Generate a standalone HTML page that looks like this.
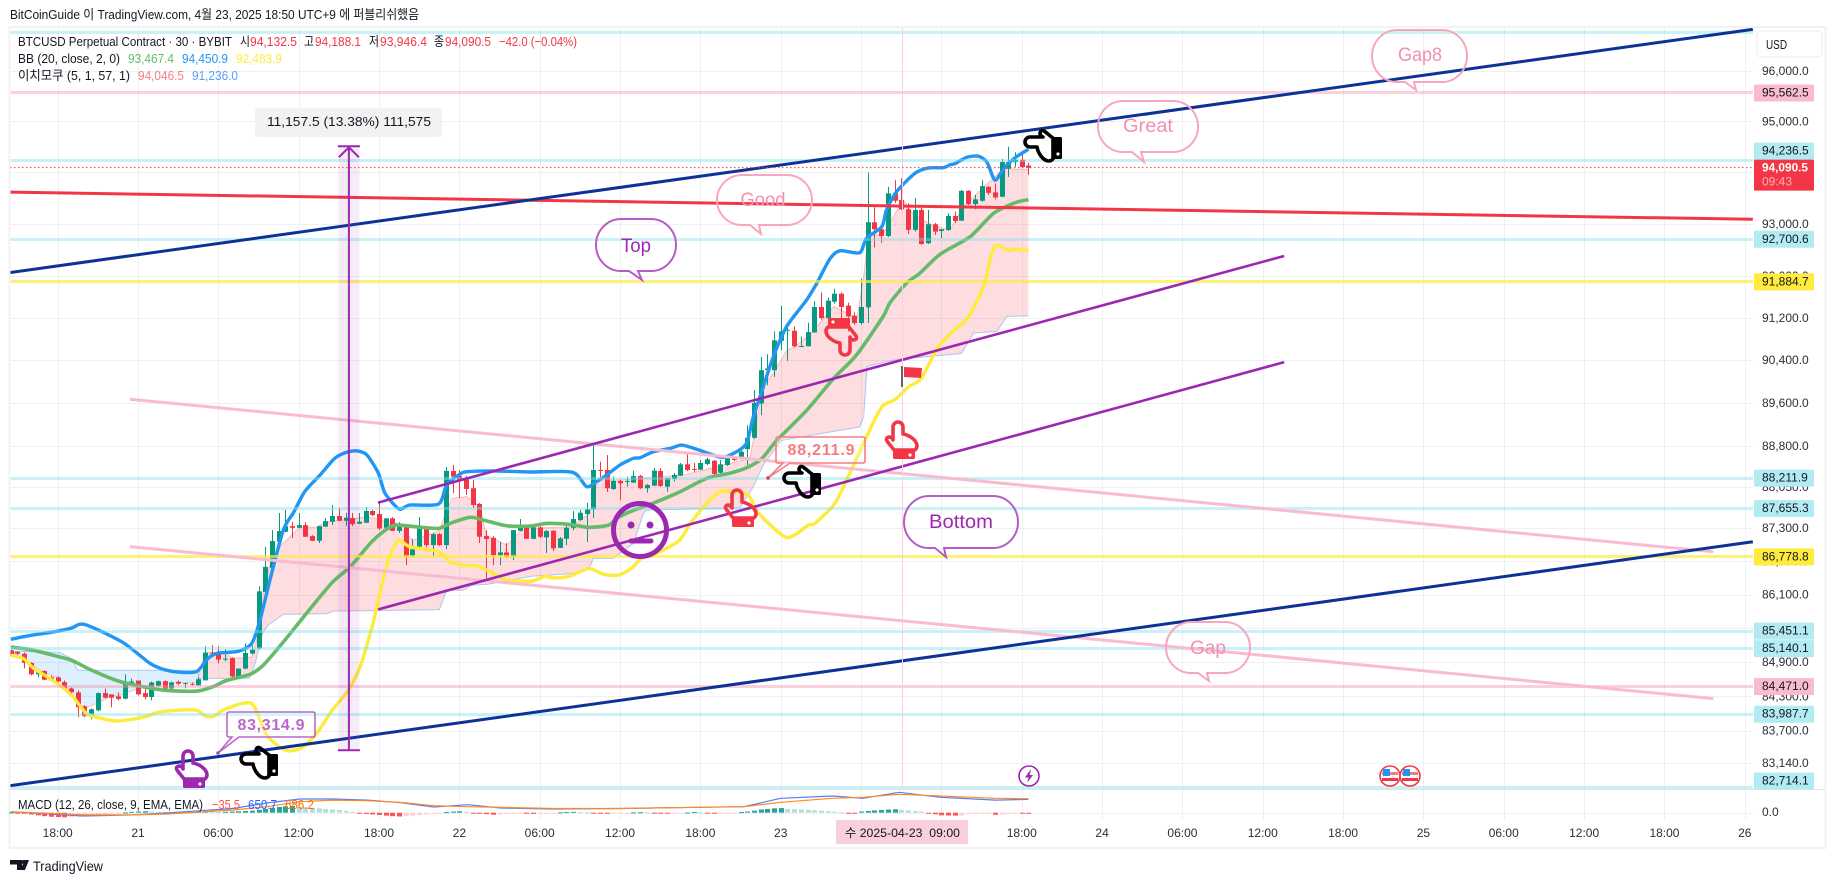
<!DOCTYPE html>
<html lang="ko">
<head>
<meta charset="utf-8">
<title>BTCUSD Perpetual Contract 30 BYBIT</title>
<style>
html,body{margin:0;padding:0;background:#fff;width:1835px;height:883px;overflow:hidden}
svg{display:block;font-family:"Liberation Sans","Noto Sans CJK KR",sans-serif}
text{white-space:pre}
</style>
</head>
<body>
<svg xmlns="http://www.w3.org/2000/svg" width="1835" height="883" viewBox="0 0 1835 883">
<defs>
<clipPath id="plot-clip"><rect x="10.5" y="28" width="1742.5" height="761"/></clipPath>
<symbol id="hand" viewBox="0 0 34 40" overflow="visible">
<path d="M8,20 L8,7 A5,5 0 0 1 18,7 L18,14 C24,15 32,20 32,26 C32,28 31,29 30,30 L9,30 C7,27 4,24 2,21 C0,18 4,15 8,19 Z" fill="none" stroke="currentColor" stroke-width="3.6" stroke-linejoin="round"/>
<rect x="8" y="30" width="22" height="9" rx="1.5" fill="currentColor"/>
<circle cx="25" cy="35" r="1.6" fill="#fff"/>
</symbol>
</defs>

<rect x="0" y="0" width="1835" height="883" fill="#fff"/>
<text x="10" y="19" font-size="13" fill="#131722" textLength="409" lengthAdjust="spacingAndGlyphs">BitCoinGuide 이 TradingView.com, 4월 23, 2025 18:50 UTC+9 에 퍼블리쉬했음</text>
<rect x="9.5" y="27" width="1816" height="821" fill="none" stroke="#f2f2f2" stroke-width="2"/>

<g id="grid"></g>
<g clip-path="url(#plot-clip)">
  <g id="cloud"></g>
  <g id="candles"></g>
  <g id="bands"></g>
  <g id="hlines"></g>
  <g id="trends"></g>
  <g id="range"></g>

  <g fill="none" stroke-width="2">
    <path stroke="#b55cc7" d="M621,219 H651 A25,26 0 0 1 676,245 A25,26 0 0 1 651,271 H638 L642,280 L629,271 H621 A25,26 0 0 1 596,245 A25,26 0 0 1 621,219 Z"/>
    <path stroke="#f8a5bf" d="M742,175 H787 A25,25 0 0 1 812,200 A25,25 0 0 1 787,225 H759 L761,234 L750,225 H742 A25,25 0 0 1 717,200 A25,25 0 0 1 742,175 Z"/>
    <path stroke="#f8a5bf" d="M1123,101 H1173 A25,25.5 0 0 1 1198,126.5 A25,25.5 0 0 1 1173,152 H1141 L1144,162 L1132,152 H1123 A25,25.5 0 0 1 1098,126.5 A25,25.5 0 0 1 1123,101 Z"/>
    <path stroke="#f8a5bf" d="M1397,30 H1442 A25,26 0 0 1 1467,56 A25,26 0 0 1 1442,82 H1414 L1416,90 L1405,82 H1397 A25,26 0 0 1 1372,56 A25,26 0 0 1 1397,30 Z"/>
    <path stroke="#f8a5bf" d="M1191,622 H1225 A25,25.5 0 0 1 1250,647.5 A25,25.5 0 0 1 1225,673 H1207 L1209,681 L1198,673 H1191 A25,25.5 0 0 1 1166,647.5 A25,25.5 0 0 1 1191,622 Z"/>
    <path stroke="#b55cc7" d="M929,496 H993 A25,26 0 0 1 1018,522 A25,26 0 0 1 993,548 H944 L946,557 L935,548 H929 A25,26 0 0 1 904,522 A25,26 0 0 1 929,496 Z"/>
  </g>
  <g text-anchor="middle" font-size="19">
    <text x="636" y="252" fill="#9c27b0" textLength="30" lengthAdjust="spacingAndGlyphs">Top</text>
    <text x="763" y="206" fill="#f48fb1" textLength="45" lengthAdjust="spacingAndGlyphs">Good</text>
    <text x="1148" y="132" fill="#f48fb1" textLength="50" lengthAdjust="spacingAndGlyphs">Great</text>
    <text x="1420" y="61" fill="#f48fb1" textLength="44" lengthAdjust="spacingAndGlyphs">Gap8</text>
    <text x="1208" y="654" fill="#f48fb1" textLength="36" lengthAdjust="spacingAndGlyphs">Gap</text>
    <text x="961" y="528" fill="#9c27b0" textLength="64" lengthAdjust="spacingAndGlyphs">Bottom</text>
  </g>

  <g>
    <circle cx="640" cy="530" r="26.5" fill="none" stroke="#9c27b0" stroke-width="5"/>
    <circle cx="631" cy="525" r="3.5" fill="#9c27b0"/>
    <circle cx="650" cy="525" r="3.5" fill="#9c27b0"/>
    <line x1="631" y1="541" x2="651" y2="541" stroke="#9c27b0" stroke-width="5" stroke-linecap="round"/>
  </g>

  <g>
    <path d="M229,712 H313 Q315,712 315,714 V735 Q315,737 313,737 H239 L218,753 L232,737 H229 Q227,737 227,735 V714 Q227,712 229,712 Z" fill="#fff" fill-opacity="0.25" stroke="#ba68c8" stroke-width="1.6"/>
    <circle cx="218" cy="753" r="1.8" fill="#ab47bc"/>
    <text x="271" y="730" text-anchor="middle" font-size="16" font-weight="bold" fill="#ba68c8" textLength="67">83,314.9</text>
  </g>
  <g>
    <path d="M778,437 H863 Q865,437 865,439 V461 Q865,463 863,463 H790 L768,478 L783,463 H778 Q776,463 776,461 V439 Q776,437 778,437 Z" fill="#fff" fill-opacity="0.25" stroke="#f77c80" stroke-width="1.6"/>
    <circle cx="768" cy="478" r="1.8" fill="#f23645"/>
    <text x="821" y="455" text-anchor="middle" font-size="16" font-weight="bold" fill="#f77c80" textLength="67">88,211.9</text>
  </g>

  <g>
    <rect x="901" y="366" width="2" height="21" fill="#666"/>
    <path d="M904,367 L922,368 L921,378 L904,377 Z" fill="#f23645"/>
  </g>

  <g>
    <use href="#hand" width="34" height="40" color="#9c27b0" transform="translate(175,749)"/>
    <use href="#hand" width="34" height="40" color="#000" transform="translate(259,763) rotate(-90) scale(-1,1) translate(-17,-20)"/>
    <use href="#hand" width="34" height="40" color="#f23645" transform="translate(724,488)"/>
    <use href="#hand" width="34" height="40" color="#000" transform="translate(802,482) rotate(-90) scale(-1,1) translate(-17,-20)"/>
    <use href="#hand" width="34" height="40" color="#f23645" transform="translate(841,337) rotate(180) translate(-17,-20)"/>
    <use href="#hand" width="34" height="40" color="#f23645" transform="translate(885,420)"/>
    <use href="#hand" width="34" height="40" color="#000" transform="translate(1043,146) rotate(-90) scale(-1,1) translate(-17,-20)"/>
  </g>

  <line id="last-price-line" x1="10" x2="1753" y1="168" y2="168" stroke="#f23645" stroke-width="1" stroke-dasharray="1.5 2.5"/>

  <g>
    <ellipse cx="1029" cy="776" rx="10" ry="10" fill="#fff" stroke="#9c27b0" stroke-width="1.6"/>
    <path d="M1031,769 L1025,777.5 H1028.6 L1027,783 L1033,775 H1029.6 Z" fill="#9c27b0"/>
    <g>
      <circle cx="1390" cy="776" r="10" fill="#fff" stroke="#f23645" stroke-width="1.6"/>
      <rect x="1382" y="772" width="16" height="3" fill="#f77c80"/>
      <rect x="1382" y="778" width="16" height="3" fill="#f23645"/>
      <rect x="1383" y="769" width="7" height="7" fill="#2196f3"/>
    </g>
    <g>
      <circle cx="1410" cy="776" r="10" fill="#fff" stroke="#f23645" stroke-width="1.6"/>
      <rect x="1402" y="772" width="16" height="3" fill="#f77c80"/>
      <rect x="1402" y="778" width="16" height="3" fill="#f23645"/>
      <rect x="1403" y="769" width="7" height="7" fill="#2196f3"/>
    </g>
  </g>
</g>

<rect x="255" y="108" width="187" height="29" rx="3" fill="#f2f2f2"/>
<text x="267" y="126" font-size="13" fill="#131722" textLength="164" lengthAdjust="spacingAndGlyphs">11,157.5 (13.38%) 111,575</text>

<g font-size="13">
  <text x="18" y="46" fill="#131722" textLength="214" lengthAdjust="spacingAndGlyphs">BTCUSD Perpetual Contract · 30 · BYBIT</text>
  <text x="240" y="46" fill="#131722" textLength="10" lengthAdjust="spacingAndGlyphs">시</text>
  <text x="250" y="46" fill="#f23645" textLength="47" lengthAdjust="spacingAndGlyphs">94,132.5</text>
  <text x="304" y="46" fill="#131722" textLength="10" lengthAdjust="spacingAndGlyphs">고</text>
  <text x="315" y="46" fill="#f23645" textLength="46" lengthAdjust="spacingAndGlyphs">94,188.1</text>
  <text x="369" y="46" fill="#131722" textLength="10" lengthAdjust="spacingAndGlyphs">저</text>
  <text x="380" y="46" fill="#f23645" textLength="47" lengthAdjust="spacingAndGlyphs">93,946.4</text>
  <text x="434" y="46" fill="#131722" textLength="10" lengthAdjust="spacingAndGlyphs">종</text>
  <text x="445" y="46" fill="#f23645" textLength="46" lengthAdjust="spacingAndGlyphs">94,090.5</text>
  <text x="499" y="46" fill="#f23645" textLength="78" lengthAdjust="spacingAndGlyphs">−42.0 (−0.04%)</text>
  <text x="18" y="63" fill="#131722" textLength="102" lengthAdjust="spacingAndGlyphs">BB (20, close, 2, 0)</text>
  <text x="128" y="63" fill="#66bb6a" textLength="46" lengthAdjust="spacingAndGlyphs">93,467.4</text>
  <text x="182" y="63" fill="#2196f3" textLength="46" lengthAdjust="spacingAndGlyphs">94,450.9</text>
  <text x="236" y="63" fill="#ffeb3b" textLength="46" lengthAdjust="spacingAndGlyphs">92,483.9</text>
  <text x="18" y="80" fill="#131722" textLength="112" lengthAdjust="spacingAndGlyphs">이치모쿠 (5, 1, 57, 1)</text>
  <text x="138" y="80" fill="#f77c80" textLength="46" lengthAdjust="spacingAndGlyphs">94,046.5</text>
  <text x="192" y="80" fill="#5b9cf6" textLength="46" lengthAdjust="spacingAndGlyphs">91,236.0</text>
</g>

<rect x="9" y="789" width="1816" height="1" fill="#e0e3eb"/>
<g id="macd"></g>
<g font-size="13">
  <text x="18" y="809" fill="#131722" textLength="185" lengthAdjust="spacingAndGlyphs">MACD (12, 26, close, 9, EMA, EMA)</text>
  <text x="212" y="809" fill="#ff5252" textLength="28" lengthAdjust="spacingAndGlyphs">−35.5</text>
  <text x="248" y="809" fill="#2962ff" textLength="29" lengthAdjust="spacingAndGlyphs">650.7</text>
  <text x="285" y="809" fill="#ff6d00" textLength="29" lengthAdjust="spacingAndGlyphs">686.2</text>
</g>

<g id="y-axis"></g>
<g id="x-axis"></g>

<rect x="1757" y="31" width="65" height="26" rx="4" fill="#fff" stroke="#eeeeee"/>
<text x="1766" y="49" font-size="13" fill="#131722" textLength="21" lengthAdjust="spacingAndGlyphs">USD</text>

<rect x="836" y="820" width="132" height="24" rx="1" fill="#f9cfdd"/>
<text x="845" y="837" font-size="12" fill="#131722" textLength="115" lengthAdjust="spacingAndGlyphs">수 2025-04-23  09:00</text>

<g>
  <path d="M10,860 H22 V870 H17 V864.5 H10 Z M29,860 L25,870 H20.5 L24.5,860 Z" fill="#131722"/>
  <circle cx="23.6" cy="862" r="2" fill="#131722"/>
  <text x="33" y="871" font-size="14" fill="#131722" textLength="70" lengthAdjust="spacingAndGlyphs">TradingView</text>
</g>

<script>
// ---- candle data: first entry is bar -19 (bar 0 = 2025-04-21 00:00, 30 minute bars)
const firstBar = -19;
const opens = [85111,85084,85049,84889,84686,84744,84638,84633,84549,84439,
84370,84126,83969,84056,84357,84335,84300,84260,84509,
84578,84357,84288,84479,84566,84439,84556,84521,84521,84491,
84580,85070,85070,84946,84974,84650,84787,85052,85146,86147,
86581,87052,87233,87336,87305,87354,87155,87070,87326,87415,
87519,87433,87482,87379,87397,87611,87556,87305,87477,87250,
87324,86793,86962,87282,86992,87191,86992,88343,88251,88209,
88026,87739,87155,87124,86811,86860,86781,87251,87313,87106,
87313,87132,87251,86943,87106,87305,87446,87556,87642,88361,
88361,88013,88160,88141,88128,88251,88026,88073,88343,88055,
88196,88256,88465,88379,88366,88471,88531,88311,88452,88586,
88604,88745,88954,89590,90213,90213,90765,90955,90955,90655,
90662,90923,91405,91196,91506,91658,91430,91240,91101,91398,
93029,92894,92765,93589,93460,93280,92881,93267,92624,92991,
92861,92881,93151,93060,93639,93382,93446,93716,93608,93523,
94071,94199,94245,94132.5];
const highs = [85128,85093,85075,84898,84757,84757,84668,84650,84578,84457,
84404,84143,84091,84370,84439,84335,84370,84686,84610,
84578,84439,84561,84578,84578,84561,84578,84543,84543,84633,
85181,85199,85181,85128,84987,84792,85235,85199,86250,86956,
87264,87574,87629,87415,87574,87409,87173,87340,87482,87720,
87665,87574,87574,87574,87684,87629,87757,87482,87500,87409,
87340,87101,87500,87336,87210,87210,88416,88452,88361,88251,
88178,87757,87264,87155,87052,87029,87264,87464,87318,87354,
87336,87264,87264,87137,87336,87611,87629,87757,88818,88513,
88635,88238,88178,88238,88348,88269,88105,88397,88397,88214,
88306,88489,88654,88489,88544,88586,88544,88544,88599,88599,
88763,89185,89839,90462,90512,90942,91430,91012,91037,90840,
91107,91512,91683,91582,91753,91683,91487,91303,91943,93994,
93319,92977,93716,93846,93884,93396,93498,93305,93267,93016,
92900,93203,93234,93653,93653,93556,93846,93730,93782,94264,
94502,94392,94347,94188.1];
const lows = [85004,85022,84792,84668,84633,84580,84561,84545,84404,84352,
83935,83935,83900,84039,84265,84109,84230,84248,84491,
84317,84248,84230,84474,84422,84422,84491,84439,84491,84491,
84578,85004,84880,84916,84633,84633,84774,85040,85128,86140,
86576,87029,87228,87119,87300,87137,87065,87029,87318,87354,
87427,87336,87336,87372,87391,87519,87264,87246,87246,87210,
86630,86775,86902,86956,86775,86974,86920,87940,87848,87903,
87665,87029,86395,86630,86630,86757,86721,87246,87101,87101,
87119,86848,86884,86938,86992,87264,87427,87047,87482,88233,
87958,87995,87812,88055,88123,88013,87945,88068,88050,87964,
88147,88251,88343,88324,88361,88452,88269,88288,88434,88526,
88580,88452,88936,89372,89932,90088,90587,90387,90644,90644,
90660,90917,91164,91183,91468,91164,90942,91069,91069,91101,
92545,92635,92746,93402,93267,92803,92848,92591,92610,92784,
92726,92861,93016,93054,93363,93280,93427,93556,93473,93517,
93909,94102,94091,93946.4];
const closes = [85013,85049,84889,84686,84727,84592,84580,84561,84439,84370,
84109,83952,84074,84357,84277,84277,84253,84509,84561,
84335,84288,84543,84566,84439,84543,84521,84531,84504,84602,
85070,85052,84946,84964,84650,84787,85063,85123,86160,86600,
87065,87246,87336,87305,87354,87143,87070,87336,87427,87519,
87433,87488,87372,87415,87611,87537,87294,87477,87250,87324,
86781,86915,87295,86992,87191,86992,88343,88238,88178,88013,
87720,87143,87101,86811,86860,86781,87264,87313,87106,87313,
87143,87246,86933,87114,87305,87464,87580,87642,88361,88343,
88026,88160,88117,88160,88251,88026,88086,88348,88068,88209,
88269,88465,88361,88366,88489,88557,88288,88465,88575,88544,
88696,88954,89602,90213,90245,90774,90942,90974,90662,90667,
90930,91405,91196,91525,91658,91405,91227,91101,91405,93029,
92894,92765,93589,93446,93280,92881,93267,92610,92991,92848,
92894,93151,93054,93639,93382,93473,93730,93600,93512,94199,
94199,94245,94102,94090.5];

// ---- Bollinger upper
const upperBars = [-19,-16,-13,-10,-8,-2.3,1.8,4.3,6.7,8.8,10.5,11.8,15,17,18.2,19.7,21.7,23.2,24.9,27.2,29.4,31.4,32.9,34.2,35.9,36.9,39,40.6,44.9,46.1,47.9,49.1,53.1,58.6,64.9,67,68.5,70,72,74,75,77,79.5,81.2,83.5,87.2,89.4,90.9,91.9,93.4,94.9,96.9,99.9,101.4,103.4,104.9,107.8,108.8,111.1,111.8,113.3,116,118,120.3,121.3,122,123.8,125.5,126.8,128,129.3,131,133];
const upperVals = [85305,85376,85429,85500,85570,85252,84880,84757,84721,84739,84969,85058,85093,85235,85635,86359,87264,87574,87964,88269,88575,88696,88709,88635,88300,87934,87647,87720,87739,88086,88269,88330,88343,88324,88319,88055,88147,88269,88452,88575,88586,88696,88758,88818,88740,88593,88696,88856,89340,89901,90467,91037,91544,91861,92334,92481,92442,92720,92944,93267,93620,93975,94083,94091,94149,94168,94295,94315,94199,93846,94071,94284,94450.9];
// ---- Bollinger basis
const basisBars = [-19,-15.6,-12.1,-9.9,-7.2,-3.2,0.3,4.3,8.8,11.3,13.2,16.7,18.7,21.7,24.2,28.9,31.7,34.9,37.1,38.6,41.6,44.9,46.6,49.6,51.6,55.1,58.6,61,64.5,67.3,70.3,71.5,73.5,77.5,81,85,88.4,91,93.2,95.4,99.9,103.9,107.3,111.3,112.3,114.8,116.8,119.8,124.3,127.8,131,133];
const basisVals = [85169,85111,85004,84934,84774,84578,84479,84404,84392,84474,84578,84686,84846,85258,85624,86305,86600,87052,87276,87354,87324,87295,87386,87496,87446,87342,87336,87386,87367,87313,87354,87476,87597,87780,87964,88209,88300,88407,88575,88904,89465,90058,90495,91227,91481,91861,92052,92412,92751,93203,93407,93467.4];
// ---- Bollinger lower
const lowerBars = [-19,-17.1,-15.6,-12.7,-9.9,-7.7,-5.7,-3,1,2.8,5.8,8.8,10,11.3,13.2,17,19.2,21.7,23.2,24.7,26.7,29,31.4,33.2,34.7,35.2,36.7,37.6,38.9,40.6,44.9,46.6,48.6,50.6,53.1,55.1,58.8,60.8,62,64.5,67.3,69.5,71.7,73.7,75.2,77.9,80.9,82.5,84.5,87,91,92.7,96.9,100.1,101.1,104.1,106.3,108.8,111.1,113.1,115.1,117,119.5,122,124,126.3,127.9,130,131,133];
const lowerVals = [85022,84964,84792,84580,84317,83999,83922,83870,83940,84016,84056,84056,83957,83952,84086,84173,83626,83378,83354,83423,83655,84056,84404,84827,85416,85640,86418,86780,87083,86962,86871,86690,86630,86618,86480,86359,86346,86431,86400,86431,86571,86467,86449,86571,86752,86871,87083,87386,87689,87964,87912,87568,87132,87354,87386,87751,88300,88965,89527,89665,89901,90058,90649,90974,91208,91797,92553,92489,92509,92483.9];
// ---- Ichimoku leading spans
const leadABars = [-19,-14.1,-12.1,-10.7,-9.1,-7.7,-6.2,-4.2,-2.7,0,2.8,8.8,9.5,10.3,13.2,14,17,17.7,18.1,18.5,20,21.7,24.2,26.7,28,29.2,34.2,38.6,41,45,46.1,46.9,49.1,51.1,52,55.1,57,58.1,64.5,67.5,68.3,68.5,72,81.5,91.4,93.4,94.9,96.9,98.1,100.6,103.9,107.4,108.4,109.1,111.1,114.3,116,119,121.3,123.3,129.3,133];
const leadAVals = [85075,84727,84638,84461,84173,84103,84173,84288,84317,84434,84521,84549,84874,85070,85070,84969,84992,85288,85635,86000,86811,87029,87318,87318,87409,87427,87507,87391,87083,87246,87629,87843,87872,87689,87173,86992,87233,87295,87324,87568,87934,88178,88178,88269,88575,89932,90157,90587,90649,90911,91417,91196,91987,92823,92765,93460,93151,92958,92881,93344,94077,94046.5];
const leadBBars = [-19,-11.7,-10,-9,8.8,9.2,16.7,17.5,18.6,19.4,21.7,28.2,29.2,45,46.1,48.6,49.8,52.3,58.8,65,67.5,68,71,74,75.5,76,87.5,89.9,91.9,93.4,96.1,101.9,107.8,108.4,108.9,113.3,123,124.8,128.3,129.8,133];
const leadBVals = [85098,85075,84969,84757,84757,84614,84619,84882,85411,85553,85748,85760,85806,85831,86178,86178,86268,86286,86431,86480,86600,86752,86752,87023,87568,87629,87660,87665,88055,88452,88904,89029,89153,89340,90288,90413,90525,90911,90942,91227,91236];

// ---- MACD pane
const macdBars = [-19,-8.2,-0.7,4.3,9.3,14.2,19.2,24.2,29.2,34.2,39.2,44.2,49.2,54.2,62,72,83.7,90.5,96,103.7,108.3,113.7,119.8,128.1,133];
const macdVals = [50,-160,-110,-15,100,205,475,670,670,620,490,280,390,230,180,205,265,295,705,820,705,1000,755,620,650.7];
const signalVals = [50,-110,-110,-65,35,130,295,540,620,590,510,345,295,265,205,205,265,295,510,705,755,900,820,705,686.2];
const histVals = [10,-10,-30,-60,-90,-120,-140,-150,-160,-150,
-140,-120,-100,-80,-60,-30,-10,10,30,
40,50,40,30,20,10,5,10,20,30,
40,30,20,30,40,50,60,70,100,130,
170,200,220,230,210,190,170,150,130,110,
90,60,30,-20,-40,-60,-80,-100,-120,-130,
-120,-100,-80,-60,-30,-10,20,40,50,30,
-10,-30,-50,-70,-60,-40,-20,-10,-30,-40,
-30,-20,-10,10,20,30,20,10,-10,-20,
-30,-20,-10,-5,10,15,10,-10,-20,-30,
-20,-10,5,20,10,-15,-30,-25,-15,-8,
20,40,70,110,130,150,160,130,125,110,
100,85,70,55,35,15,-15,-30,40,60,
80,95,110,120,100,80,60,40,-30,-55,
-90,-95,-100,-95,-45,-40,-35,-30,-70,-60,
-20,-15,-30,-35.5];

// ---- axes
const priceTicks = [96000,95000,94000,93000,92000,91200,90400,89600,88800,88050,87300,86700,86100,85500,84900,84300,83700,83140];
const timeTickBars = [-12,0,12,24,36,48,60,72,84,96,108,120,132,144,156,168,180,192,204,216,228,240];
const timeTickLabels = ['18:00','21','06:00','12:00','18:00','22','06:00','12:00','18:00','23','06:00','12:00','18:00','24','06:00','12:00','18:00','25','06:00','12:00','18:00','26'];

// ---- horizontal levels
const cyanLevels = [96781,94236.5,92700.6,88211.9,87655.3,85451.1,85140.1,83987.7,82714.1];
const pinkLevels = [95562.5,84471.0];
const yellowLevels = [91884.7,86778.8];
const lastPrice = 94090.5;
const countdown = '09:43';

// ---- trend lines: start bar, start price, end bar, end price
const navyUpper = [-19.4,92057,241.2,96835];
const navyLower = [-19.4,82744,241.2,87052];
const redTrend = [-19.4,93614,241.2,93087];
const purpleUpper = [35.85,87763,171.2,92380];
const purpleLower = [35.85,85836,171.2,90363];
const pinkUpper = [-1.2,89670,235.3,86871];
const pinkLower = [-1.2,86965,235.3,84260];
const rangeBar = 31.5;
const rangeLow = 83360;
const rangeHigh = 94510;
const cursorBar = 114;
const macdZeroValue = 0;

const NS = 'http://www.w3.org/2000/svg';
function xOf(bar){ return 138 + 6.695 * bar; }
function yOf(price){ return 71 + 4811.6 * Math.log(96000 / price); }
function yMacd(v){ return 812.7 - v * 0.0204; }
function yHist(v){ return 812.7 - v * 0.029; }
function make(tag, parent, attrs){
  const e = document.createElementNS(NS, tag);
  for (const k in attrs) e.setAttribute(k, attrs[k]);
  parent.appendChild(e);
  return e;
}
function fmt(p){ return p.toLocaleString('en-US', {minimumFractionDigits:1, maximumFractionDigits:1}); }
function polyPoints(bars, vals, yFn){
  return bars.map(function(b, i){ return xOf(b).toFixed(1) + ',' + yFn(vals[i]).toFixed(1); }).join(' ');
}
function smoothPath(bars, vals){
  const pts = bars.map(function(b, i){ return [xOf(b), yOf(vals[i])]; });
  let d = 'M' + pts[0][0].toFixed(1) + ' ' + pts[0][1].toFixed(1);
  for (let i = 0; i < pts.length - 1; i++) {
    const p0 = pts[Math.max(0, i - 1)];
    const p1 = pts[i];
    const p2 = pts[i + 1];
    const p3 = pts[Math.min(pts.length - 1, i + 2)];
    const c1x = p1[0] + (p2[0] - p0[0]) / 8;
    const c1y = p1[1] + (p2[1] - p0[1]) / 8;
    const c2x = p2[0] - (p3[0] - p1[0]) / 8;
    const c2y = p2[1] - (p3[1] - p1[1]) / 8;
    d += ' C' + c1x.toFixed(1) + ' ' + c1y.toFixed(1) + ' ' + c2x.toFixed(1) + ' ' + c2y.toFixed(1) + ' ' + p2[0].toFixed(1) + ' ' + p2[1].toFixed(1);
  }
  return d;
}
function interp(bars, vals, b){
  if (b <= bars[0]) return vals[0];
  for (let i = 1; i < bars.length; i++) {
    if (b <= bars[i]) {
      const t = (b - bars[i-1]) / (bars[i] - bars[i-1]);
      return vals[i-1] + t * (vals[i] - vals[i-1]);
    }
  }
  return vals[vals.length - 1];
}

// grid
const gridG = document.getElementById('grid');
priceTicks.forEach(function(p){
  const g = make('rect', gridG, {x:10.5, width:1742.5, y:Math.round(yOf(p)), height:1, fill:'#eff0f3'});
  
  
});
timeTickBars.forEach(function(b){
  const g = make('rect', gridG, {x:Math.round(xOf(b)), width:1, y:28, height:792, fill:'#eff0f3'});
  
  
});
const zeroLine = make('rect', gridG, {x:10.5, width:1742.5, y:Math.round(yMacd(macdZeroValue)), height:1, fill:'#eff0f3'});



// cloud
const cloudG = document.getElementById('cloud');
const startBar = firstBar;
const endBar = firstBar + opens.length - 1;
let segTop = [], segBot = [], segSign = 0;
function flushCloud(){
  if (segTop.length > 1) {
    const d = segTop.concat(segBot.slice().reverse()).join(' ');
    const poly = make('polygon', cloudG, {points:d, fill: segSign > 0 ? 'rgba(242,54,69,0.17)' : 'rgba(33,150,243,0.15)'});
    
    
  }
  segTop = []; segBot = [];
}
for (let b = startBar; b <= endBar + 0.001; b += 0.25) {
  const a = interp(leadABars, leadAVals, b);
  const c = interp(leadBBars, leadBVals, b);
  const s = a >= c ? 1 : -1;
  const pa = xOf(b).toFixed(1) + ',' + yOf(a).toFixed(1);
  const pb = xOf(b).toFixed(1) + ',' + yOf(c).toFixed(1);
  if (s !== segSign && segSign !== 0) {
    segTop.push(pa); segBot.push(pb);
    flushCloud();
  }
  segSign = s;
  segTop.push(pa); segBot.push(pb);
}
flushCloud();
const spanA = make('polyline', cloudG, {points:polyPoints(leadABars, leadAVals, yOf), fill:'none', stroke:'rgba(242,54,69,0.28)', 'stroke-width':1});


const spanB = make('polyline', cloudG, {points:polyPoints(leadBBars, leadBVals, yOf), fill:'none', stroke:'rgba(33,120,243,0.35)', 'stroke-width':1});



// candles
const candleG = document.getElementById('candles');
opens.forEach(function(o, i){
  const bar = firstBar + i;
  const c = closes[i];
  const colour = c >= o ? '#089981' : '#f23645';
  const x = Math.round(xOf(bar));
  const wick = make('rect', candleG, {x:x, y:yOf(highs[i]), width:1, height:Math.max(1, yOf(lows[i]) - yOf(highs[i])), fill:colour});
  
  
  const top = yOf(Math.max(o, c));
  const bot = yOf(Math.min(o, c));
  const body = make('rect', candleG, {x:x - 2, y:top, width:5, height:Math.max(1, bot - top), fill:colour});
  
  
});

// bands
const bandG = document.getElementById('bands');
const upperLine = make('path', bandG, {d:smoothPath(upperBars, upperVals), fill:'none', stroke:'#2196f3', 'stroke-width':3.4, 'stroke-linejoin':'round'});


const basisLine = make('path', bandG, {d:smoothPath(basisBars, basisVals), fill:'none', stroke:'#66bb6a', 'stroke-width':3.6, 'stroke-linejoin':'round'});


const lowerLine = make('path', bandG, {d:smoothPath(lowerBars, lowerVals), fill:'none', stroke:'#ffeb3b', 'stroke-width':3.4, 'stroke-linejoin':'round'});



// horizontal levels
const hG = document.getElementById('hlines');
cyanLevels.forEach(function(p){
  const l = make('rect', hG, {x:10, width:1743, y:Math.round(yOf(p) - 1.5), height:3, fill:'rgba(128,222,234,0.42)'});
  
  
});
pinkLevels.forEach(function(p){
  const l = make('rect', hG, {x:10, width:1743, y:Math.round(yOf(p) - 1.5), height:3, fill:'rgba(244,143,177,0.42)'});
  
  
});
yellowLevels.forEach(function(p){
  const l = make('rect', hG, {x:10, width:1743, y:Math.round(yOf(p) - 1.5), height:3, fill:'rgba(255,235,59,0.7)'});
  
  
});

// trend lines
const tG = document.getElementById('trends');
function trend(seg, colour, width){
  return make('line', tG, {x1:xOf(seg[0]), y1:yOf(seg[1]), x2:xOf(seg[2]), y2:yOf(seg[3]), stroke:colour, 'stroke-width':width});
}
const t1 = trend(pinkUpper, '#f8bbd0', 3);


const t2 = trend(pinkLower, '#f8bbd0', 3);


const t3 = trend(redTrend, '#f23645', 3);


const t4 = trend(purpleUpper, '#9c27b0', 2.6);


const t5 = trend(purpleLower, '#9c27b0', 2.6);


const t6 = trend(navyUpper, '#0d3296', 3);


const t7 = trend(navyLower, '#0d3296', 3);



// range measure
const rG = document.getElementById('range');
const rx = xOf(rangeBar);
const rTop = yOf(rangeHigh);
const rBot = yOf(rangeLow);
const rBand = make('rect', rG, {x:rx - 10.5, y:rTop, width:21, height:rBot - rTop, fill:'rgba(156,39,176,0.09)'});


const rLine = make('line', rG, {x1:rx, x2:rx, y1:rTop, y2:rBot, stroke:'#9c27b0', 'stroke-width':2});


const rCapTop = make('line', rG, {x1:rx - 11, x2:rx + 11, y1:rTop, y2:rTop, stroke:'#9c27b0', 'stroke-width':2});


const rCapBot = make('line', rG, {x1:rx - 11, x2:rx + 11, y1:rBot, y2:rBot, stroke:'#9c27b0', 'stroke-width':2});


const rHead = make('polyline', rG, {points:(rx - 10) + ',' + (rTop + 11) + ' ' + rx + ',' + (rTop + 1) + ' ' + (rx + 10) + ',' + (rTop + 11), fill:'none', stroke:'#9c27b0', 'stroke-width':2});



// cursor line
const cursor = make('rect', document.getElementById('range'), {x:Math.round(xOf(cursorBar)) + 1, width:1, y:28, height:792, fill:'#f9cfdd'});



// MACD
const mG = document.getElementById('macd');
histVals.forEach(function(v, i){
  const prev = i > 0 ? histVals[i-1] : 0;
  let colour;
  if (v >= 0) colour = v >= prev ? '#26a69a' : '#b2dfdb';
  else colour = v <= prev ? '#ff5252' : '#ffcdd2';
  const top = Math.min(yHist(0), yHist(v));
  const h = Math.max(1, Math.abs(yHist(v) - yHist(0)));
  const b = make('rect', mG, {x:Math.round(xOf(firstBar + i)) - 2, y:top, width:5, height:h, fill:colour});
  
  
});
const macdLine = make('polyline', mG, {points:polyPoints(macdBars, macdVals, yMacd), fill:'none', stroke:'#5b7cf6', 'stroke-width':1.2});


const signalLine = make('polyline', mG, {points:polyPoints(macdBars, signalVals, yMacd), fill:'none', stroke:'#ff8a1e', 'stroke-width':1.2});



// price axis
const yG = document.getElementById('y-axis');
priceTicks.forEach(function(p){
  const t = make('text', yG, {x:1762, y:yOf(p) + 4, 'font-size':12, fill:'#2a2e39'});
  t.textContent = fmt(p);
  
  
});
const zeroLabel = make('text', yG, {x:1762, y:816, 'font-size':12, fill:'#2a2e39'});
zeroLabel.textContent = '0.0';


const lastBoxTop = yOf(lastPrice) - 8;
function levelLabel(p, colour){
  let c = Math.min(yOf(p), 781);
  if (c < lastBoxTop + 8 && c + 8.5 > lastBoxTop) c = lastBoxTop - 8.5;
  const r = make('rect', yG, {x:1754, y:c - 8.5, width:60, height:17, rx:1, fill:colour});
  
  
  const t = make('text', yG, {x:1762, y:c + 3.5, 'font-size':12, fill:'#131722'});
  t.textContent = fmt(p);
  
  
}
cyanLevels.slice(1).forEach(function(p){ levelLabel(p, '#b2ebf2'); });
pinkLevels.forEach(function(p){ levelLabel(p, '#f8bbd0'); });
yellowLevels.forEach(function(p){ levelLabel(p, '#ffeb3b'); });
const lastBox = make('rect', yG, {x:1754, y:lastBoxTop, width:60, height:31, rx:1, fill:'#f23645'});


const lastText = make('text', yG, {x:1762, y:yOf(lastPrice) + 4, 'font-size':12, 'font-weight':'bold', fill:'#fff', textLength:46, lengthAdjust:'spacingAndGlyphs'});
lastText.textContent = fmt(lastPrice);


const cdText = make('text', yG, {x:1762, y:yOf(lastPrice) + 18, 'font-size':12, fill:'rgba(255,255,255,0.6)'});
cdText.textContent = countdown;


document.getElementById('last-price-line').setAttribute('y1', yOf(lastPrice));
document.getElementById('last-price-line').setAttribute('y2', yOf(lastPrice));

// time axis
const xG = document.getElementById('x-axis');
timeTickBars.forEach(function(b, i){
  const t = make('text', xG, {x:xOf(b), y:837, 'font-size':12, 'text-anchor':'middle', fill:'#2a2e39'});
  t.textContent = timeTickLabels[i];
  
  
});
</script>
</svg>
</body>
</html>
